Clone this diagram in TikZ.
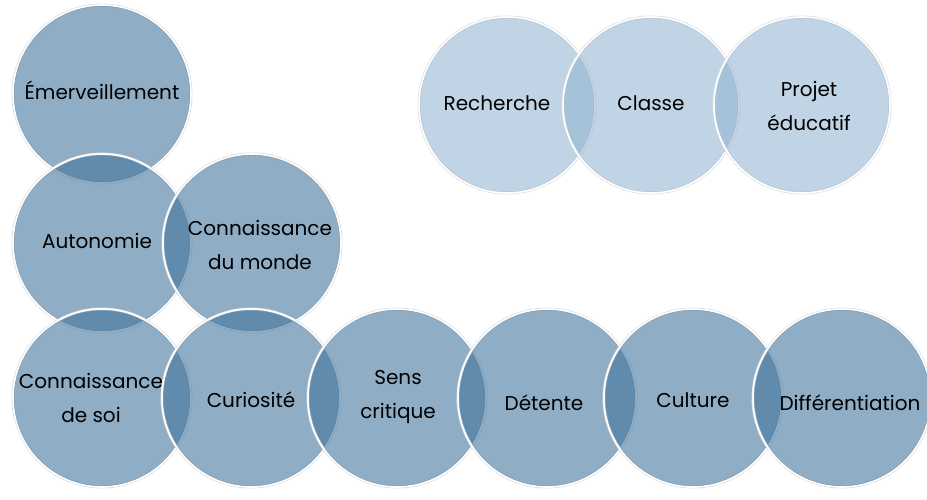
\documentclass[tikz,border=0pt]{standalone}
\usepackage{fontspec}
\setmainfont{Poppins}
\definecolor{dkC}{RGB}{62,114,155}
\definecolor{ltC}{RGB}{146,180,209}
\tikzset{
  circ/.style={circle, minimum size=178pt, inner sep=0pt, fill=dkC, fill opacity=0.58,
    draw=white, line width=1.6pt,
    preaction={draw=gray!25, line width=3pt, fill opacity=0}},
  lcirc/.style={circ, fill=ltC, fill opacity=0.57, minimum size=176pt},
  lbl/.style={align=center, text=black, inner sep=0pt,
    font=\fontsize{20}{33.5}\selectfont}
}
\begin{document}
\begin{tikzpicture}[x=1pt,y=-1pt]
\useasboundingbox (0,0) rectangle (927,499);
% top-right group
\node[lcirc] (rech) at (507,105) {};
\node[lcirc] (cla) at (651,105) {};
\node[lcirc] (proj) at (802,105) {};
% left column
\node[circ] (emer) at (102,94) {};
\node[circ] (auto) at (102,243) {};
\node[circ] (cdm) at (252,243) {};
% bottom row
\node[circ] (cds) at (102,398) {};
\node[circ] (cur) at (251,398) {};
\node[circ] (sens) at (397,398) {};
\node[circ] (det) at (547,398) {};
\node[circ] (cul) at (693,398) {};
\node[circ] (diff) at (842,398) {};
% labels
\node[lbl] (t-rech) at ([xshift=-10pt,yshift=2pt]rech.center) {Recherche};
\node[lbl] (t-cla) at ([yshift=2pt]cla.center) {Classe};
\node[lbl] (t-proj) at ([xshift=7pt,yshift=-1pt]proj.center) {Projet\\éducatif};
\node[lbl] (t-emer) at ([yshift=4pt]emer.center) {Émerveillement};
\node[lbl] (t-auto) at ([xshift=-5pt,yshift=2pt]auto.center) {Autonomie};
\node[lbl] (t-cdm) at ([xshift=8pt,yshift=-2pt]cdm.center) {Connaissance\\du monde};
\node[lbl] (t-cds) at ([xshift=-11pt]cds.center) {Connaissance\\de soi};
\node[lbl] (t-cur) at ([yshift=-2pt]cur.center) {Curiosité};
\node[lbl] (t-sens) at ([xshift=1pt,yshift=1pt]sens.center) {Sens\\critique};
\node[lbl] (t-det) at ([xshift=-3pt,yshift=-5pt]det.center) {Détente};
\node[lbl] (t-cul) at ([yshift=-2pt]cul.center) {Culture};
\node[lbl] (t-diff) at ([xshift=8pt,yshift=-5pt]diff.center) {Différentiation};
\end{tikzpicture}
\end{document}
